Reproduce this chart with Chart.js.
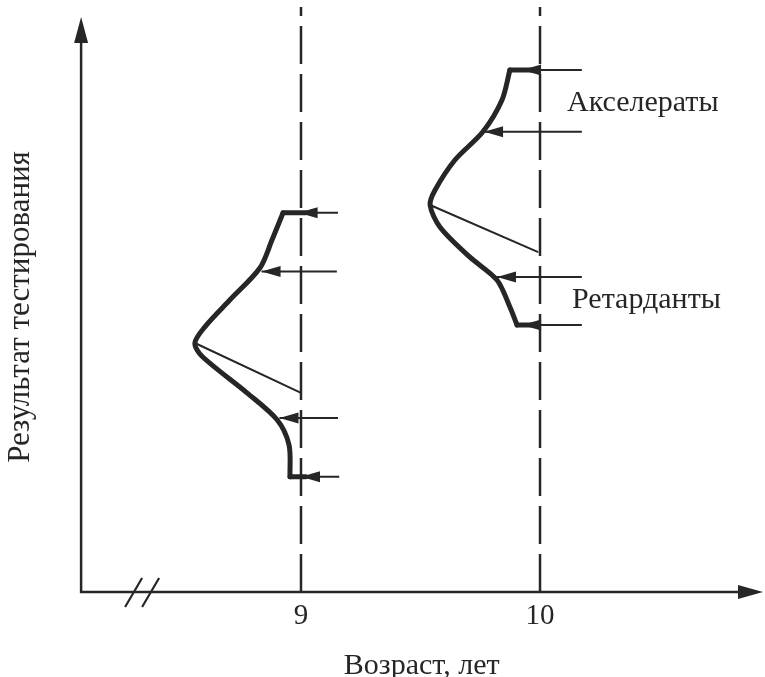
<!DOCTYPE html>
<html>
<head>
<meta charset="utf-8">
<script src="https://cdn.jsdelivr.net/npm/chart.js@4"></script>
<style>
  html, body { margin: 0; padding: 0; background: #ffffff; }
  canvas { display: block; }
</style>
</head>
<body>
<canvas id="c" width="765" height="677"></canvas>
<script>
// ---- data ----
const xTickValues = [9, 10];
const xTickLabels = ['9', '10'];
const xTitle = 'Возраст, лет';
const yTitle = 'Результат тестирования';
const groupLabels = ['Акселераты', 'Ретарданты'];
const groupLabelAge = [10.113, 10.134];
const groupLabelScore = [81.5, 48.7];

// distribution curve at age 9
const curve9Age = [8.925, 8.879, 8.828, 8.703, 8.598, 8.556, 8.586, 8.774, 8.900, 8.950, 8.954];
const curve9Score = [63.2, 58.7, 54.0, 48.7, 44.2, 41.5, 39.3, 33.2, 28.7, 24.5, 19.2];
const cap9Age = [8.925, 9.02, 8.954, 9.02];
const cap9Score = [63.2, 63.2, 19.2, 19.2];
const diag9Age = [8.556, 9.0];
const diag9Score = [41.5, 33.2];
const arrow9Score = [63.2, 53.4, 29.0, 19.2];
const arrow9From = [9.155, 9.15, 9.155, 9.16];
const arrow9To = [8.99, 8.835, 8.91, 9.0];

// distribution curve at age 10
const curve10Age = [9.874, 9.841, 9.761, 9.644, 9.561, 9.540, 9.582, 9.707, 9.820, 9.874, 9.904];
const curve10Score = [87.0, 82.0, 76.7, 72.0, 67.0, 64.5, 60.8, 55.8, 52.0, 47.5, 44.5];
const cap10Age = [9.874, 9.98, 9.904, 9.98];
const cap10Score = [87.0, 87.0, 44.5, 44.5];
const diag10Age = [9.54, 9.99];
const diag10Score = [64.5, 56.7];
const arrow10Score = [87.0, 76.7, 52.5, 44.5];
const arrow10From = [10.175, 10.175, 10.175, 10.175];
const arrow10To = [9.925, 9.766, 9.82, 9.925];

// dashed guides
const guideAges = [9, 10];
const guideTop = 97.5;

// ---- build datasets ----
const INK = '#262626';
const FONT = '"Liberation Serif", "DejaVu Serif", serif';
function pts(xs, ys) { return xs.map((x, i) => ({ x: x, y: ys[i] })); }
function lineDs(data, width, extra) {
  return Object.assign({
    data: data, showLine: true, borderColor: INK, backgroundColor: INK,
    borderWidth: width, pointRadius: 0, pointHoverRadius: 0, tension: 0,
    fill: false, borderCapStyle: 'round', borderJoinStyle: 'round'
  }, extra || {});
}
const datasets = [];
guideAges.forEach(a => {
  datasets.push(lineDs([{ x: a, y: 0 }, { x: a, y: guideTop }], 2.5, { borderDash: [38, 10], borderCapStyle: 'butt' }));
});
datasets.push(lineDs(pts(curve9Age, curve9Score), 5, { tension: 0.3 }));
datasets.push(lineDs(pts(curve10Age, curve10Score), 5, { tension: 0.3 }));
[[cap9Age, cap9Score], [cap10Age, cap10Score]].forEach(([xs, ys]) => {
  datasets.push(lineDs([{ x: xs[0], y: ys[0] }, { x: xs[1], y: ys[1] }], 5));
  datasets.push(lineDs([{ x: xs[2], y: ys[2] }, { x: xs[3], y: ys[3] }], 5));
});
datasets.push(lineDs(pts(diag9Age, diag9Score), 2));
datasets.push(lineDs(pts(diag10Age, diag10Score), 2));
[[arrow9From, arrow9To, arrow9Score], [arrow10From, arrow10To, arrow10Score]].forEach(([fr, to, sc]) => {
  sc.forEach((s, i) => {
    datasets.push(lineDs([{ x: fr[i], y: s }, { x: to[i], y: s }], 2, { isArrow: true, borderCapStyle: 'butt' }));
  });
});

function arrowHead(ctx, tx, ty, dx, dy, len, half) {
  const L = Math.hypot(dx, dy); const ux = dx / L, uy = dy / L;
  const bx = tx - ux * len, by = ty - uy * len;
  ctx.beginPath();
  ctx.moveTo(tx, ty);
  ctx.lineTo(bx - uy * half, by + ux * half);
  ctx.lineTo(bx + uy * half, by - ux * half);
  ctx.closePath();
  ctx.fill();
}

const decor = {
  id: 'decor',
  beforeDatasetsDraw(chart) {
    const ctx = chart.ctx, xs = chart.scales.x, ys = chart.scales.y;
    const x0 = xs.left, y0 = ys.getPixelForValue(0);
    ctx.save();
    ctx.strokeStyle = INK; ctx.fillStyle = INK; ctx.lineWidth = 2.5; ctx.lineCap = 'butt';
    // y axis
    const yTip = 17;
    ctx.beginPath(); ctx.moveTo(x0, y0 + 1); ctx.lineTo(x0, yTip + 10); ctx.stroke();
    arrowHead(ctx, x0, yTip, 0, -1, 26, 7);
    // x axis
    const xTip = 763;
    ctx.beginPath(); ctx.moveTo(x0 - 1, y0); ctx.lineTo(xTip - 10, y0); ctx.stroke();
    arrowHead(ctx, xTip, y0, 1, 0, 25, 7);
    // break mark
    ctx.lineWidth = 2.2;
    ctx.beginPath();
    ctx.moveTo(x0 + 44, y0 + 15); ctx.lineTo(x0 + 61, y0 - 14);
    ctx.moveTo(x0 + 61, y0 + 15); ctx.lineTo(x0 + 78, y0 - 14);
    ctx.stroke();
    ctx.restore();
  },
  afterDatasetsDraw(chart) {
    const ctx = chart.ctx;
    ctx.save();
    ctx.fillStyle = INK;
    chart.data.datasets.forEach((ds, i) => {
      if (!ds.isArrow) return;
      const m = chart.getDatasetMeta(i).data;
      const a = m[0], b = m[1];
      arrowHead(ctx, b.x, b.y, b.x - a.x, b.y - a.y, 19, 5.5);
    });
    ctx.restore();
  },
  afterDraw(chart) {
    const ctx = chart.ctx, xs = chart.scales.x, ys = chart.scales.y;
    const y0 = ys.getPixelForValue(0);
    ctx.save();
    ctx.fillStyle = INK;
    ctx.font = '29px ' + FONT;
    ctx.textAlign = 'center'; ctx.textBaseline = 'middle';
    xTickValues.forEach((v, i) => ctx.fillText(xTickLabels[i], xs.getPixelForValue(v), y0 + 24));
    ctx.font = '30px ' + FONT;
    ctx.fillText(xTitle, (xs.left + xs.right) / 2, y0 + 74);
    ctx.textAlign = 'left';
    groupLabels.forEach((t, i) => ctx.fillText(t, xs.getPixelForValue(groupLabelAge[i]), ys.getPixelForValue(groupLabelScore[i])));
    ctx.translate(21, (ys.top + y0) / 2 + 9);
    ctx.rotate(-Math.PI / 2);
    ctx.textAlign = 'center';
    ctx.font = '31px ' + FONT;
    ctx.fillText(yTitle, 0, 0);
    ctx.restore();
  }
};

new Chart(document.getElementById('c'), {
  type: 'scatter',
  data: { datasets: datasets },
  options: {
    responsive: false,
    animation: false,
    events: [],
    layout: { padding: { left: 81.1, right: 2.7, top: 4, bottom: 85 } },
    plugins: { legend: { display: false }, tooltip: { enabled: false } },
    scales: {
      x: { type: 'linear', min: 8.08, max: 10.93, display: false },
      y: { type: 'linear', min: 0, max: 98, display: false }
    }
  },
  plugins: [decor]
});
</script>
</body>
</html>
